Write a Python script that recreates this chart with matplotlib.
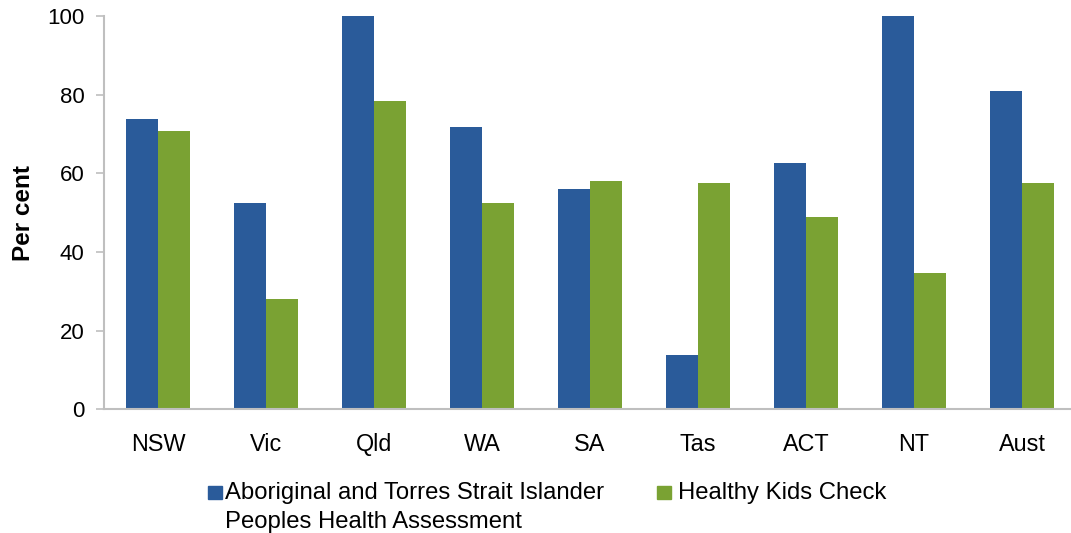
import numpy as np
import matplotlib
matplotlib.use("Agg")
import matplotlib.pyplot as plt
from matplotlib.patches import Rectangle

# Datos
estados = ["NSW", "Vic", "Qld", "WA", "SA", "Tas", "ACT", "NT", "Aust"]
evaluacion = [73.8, 52.5, 100, 71.8, 56.0, 13.7, 62.6, 100, 80.9]
chequeo = [70.7, 28.0, 78.4, 52.5, 58.0, 57.5, 48.9, 34.7, 57.5]
etiquetas = ["Aboriginal and Torres Strait Islander\nPeoples Health Assessment",
             "Healthy Kids Check"]

azul = "#2A5B9A"
verde = "#7AA233"
fuente = "Liberation Sans"

W, H = 1071, 533
fig = plt.figure(figsize=(W / 100, H / 100), dpi=100)
ax = fig.add_axes([104 / W, (H - 409.3) / H, 972 / W, (409.3 - 16) / H])

x = np.arange(len(estados))
ancho = 0.296
ax.bar(x - ancho / 2, evaluacion, ancho, color=azul)
ax.bar(x + ancho / 2, chequeo, ancho, color=verde)

ax.set_xlim(-0.5, len(estados) - 0.5)
ax.set_ylim(0, 100)
ax.set_yticks([0, 20, 40, 60, 80, 100])
ax.set_xticks(x)
ax.set_xticklabels(estados, fontfamily=fuente, fontsize=16.8)
for t in ax.get_yticklabels():
    t.set_fontfamily(fuente)
    t.set_fontsize(16)
ax.tick_params(axis="y", length=6, width=1.2, color="#BFBFBF", pad=8)
ax.tick_params(axis="x", length=0, pad=17)

for lado in ["top", "right"]:
    ax.spines[lado].set_visible(False)
for lado in ["left", "bottom"]:
    ax.spines[lado].set_color("#BFBFBF")
    ax.spines[lado].set_linewidth(1.5)

ax.set_ylabel("Per cent", fontfamily=fuente, fontweight="bold", fontsize=17.5)
ax.yaxis.set_label_coords((35 - 104) / 972, 0.5)

# Leyenda manual (cuadro alineado con la primera linea)
posiciones = [(208, 225), (657, 678)]
for (xc, xt), etiqueta, color in zip(posiciones, etiquetas, [azul, verde]):
    fig.add_artist(Rectangle((xc / W, (H - 499) / H), 14 / W, 13.5 / H,
                             transform=fig.transFigure, color=color))
    fig.text(xt / W, (H - 482) / H, etiqueta, fontfamily=fuente, fontsize=17.2,
             va="top", ha="left", linespacing=1.4)

fig.savefig("out.png", dpi=100)
